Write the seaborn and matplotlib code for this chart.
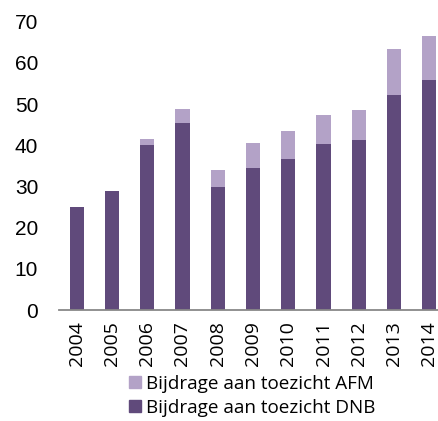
import matplotlib
matplotlib.use("Agg")
import matplotlib.pyplot as plt
import seaborn as sns
import pandas as pd
from matplotlib.lines import Line2D

years = ["2004", "2005", "2006", "2007", "2008", "2009", "2010", "2011", "2012", "2013", "2014"]
dnb = [24.9, 28.9, 40.0, 45.5, 29.8, 34.4, 36.6, 40.4, 41.3, 52.2, 55.8]
afm = [0.0, 0.0, 1.4, 3.3, 4.2, 6.1, 6.9, 6.9, 7.2, 11.1, 10.7]
yticks = [0, 10, 20, 30, 40, 50, 60, 70]
labels = ["Bijdrage aan toezicht AFM", "Bijdrage aan toezicht DNB"]

c_dnb = "#604A7B"
c_afm = "#B3A2C7"

df = pd.DataFrame({"year": years, "dnb": dnb, "afm": afm})
df["total"] = df["dnb"] + df["afm"]

sns.set_style("white")
fig = plt.figure(figsize=(4.39, 4.21), dpi=100)
W, H = 439, 421
ax = fig.add_axes([59 / W, (H - 310) / H, 388 / W, 288.4 / H])

sns.barplot(data=df, x="year", y="total", color=c_afm, width=0.4, ax=ax,
            saturation=1, linewidth=0)
sns.barplot(data=df, x="year", y="dnb", color=c_dnb, width=0.4, ax=ax,
            saturation=1, linewidth=0)

ax.set_xlim(-0.5, 10.5)
ax.set_ylim(0, 70)
ax.set_yticks(yticks)
ax.set_yticklabels([str(t) for t in yticks], fontfamily="Liberation Sans",
                   fontsize=15, color="black")
ax.set_xticks(range(len(years)))
ax.set_xticklabels(years, rotation=90, fontfamily="Open Sans", fontsize=14,
                   color="black")
ax.tick_params(axis="y", length=0, pad=15)
ax.tick_params(axis="x", length=0, pad=8)
ax.set_xlabel("")
ax.set_ylabel("")
for s in ["top", "right", "left"]:
    ax.spines[s].set_visible(False)
ax.spines["bottom"].set_color("#888888")
ax.spines["bottom"].set_linewidth(1.3)
ax.set_facecolor("white")

handles = [
    Line2D([], [], marker="s", linestyle="none", markersize=8.5, color=c_afm),
    Line2D([], [], marker="s", linestyle="none", markersize=8.5, color=c_dnb),
]
fig.legend(handles, labels, loc="upper left", bbox_to_anchor=(129 / W, 1 - 375 / H),
           frameon=False, prop={"family": "Open Sans", "size": 13.6},
           labelcolor="black",
           handlelength=0.6, handletextpad=0.3, labelspacing=0.3, borderpad=0,
           borderaxespad=0)

fig.savefig("out.png", dpi=100)
